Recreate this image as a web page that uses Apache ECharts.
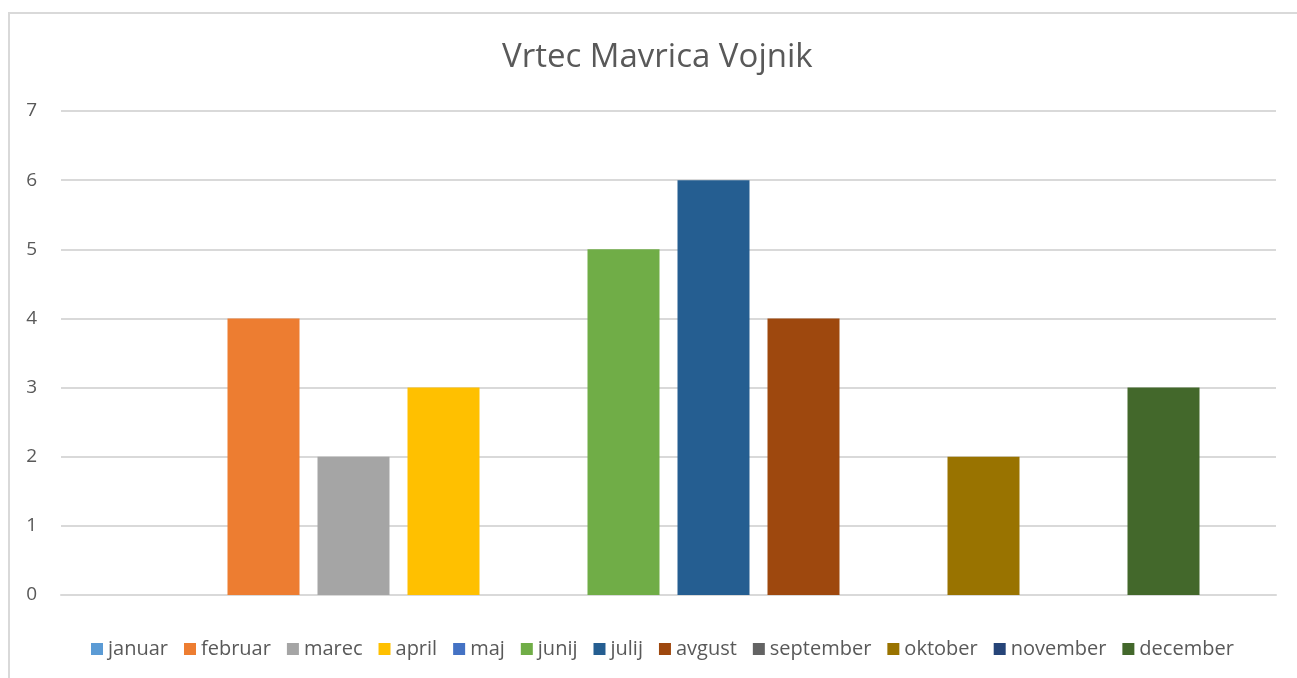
<!DOCTYPE html>
<html>
<head>
<meta charset="utf-8">
<style>
  html, body { margin: 0; padding: 0; background: #fff; }
  #chart { width: 1297px; height: 678px; }
</style>
<script src="https://cdn.jsdelivr.net/npm/echarts@6/dist/echarts.min.js"></script>
</head>
<body>
<div id="chart"></div>
<script>
  // months shown as separate series in one category
  const months = ['januar', 'februar', 'marec', 'april', 'maj', 'junij', 'julij', 'avgust', 'september', 'oktober', 'november', 'december']
  const values = [0, 4, 2, 3, 0, 5, 6, 4, 0, 2, 0, 3]
  const colors = ['#5b9bd5', '#ed7d31', '#a5a5a5', '#ffc000', '#4472c4', '#70ad47', '#255e91', '#9e480e', '#636363', '#997300', '#264478', '#43682b']
  const yTicks = [0, 1, 2, 3, 4, 5, 6, 7]

  const myChart = echarts.init(document.getElementById('chart'))
  myChart.setOption({
    animation: false,
    color: colors,
    textStyle: { fontFamily: 'Open Sans' },
    title: {
      text: 'Vrtec Mavrica Vojnik',
      left: 497,
      top: 36,
      textStyle: { color: '#595959', fontSize: 33, fontWeight: 'normal', fontFamily: 'Open Sans' }
    },
    graphic: [{
      type: 'rect',
      shape: { x: 9, y: 13, width: 1320, height: 700 },
      style: { fill: 'none', stroke: '#d9d9d9', lineWidth: 2 },
      silent: true
    }],
    grid: { left: 61, right: 21, top: 111, bottom: 83 },
    legend: {
      bottom: 14,
      left: 86,
      icon: 'rect',
      itemWidth: 12,
      itemHeight: 12,
      itemGap: 16,
      textStyle: { color: '#595959', fontSize: 20, fontFamily: 'Open Sans' },
      data: months
    },
    xAxis: {
      type: 'category',
      data: [''],
      axisLine: { lineStyle: { color: '#d9d9d9', width: 2 } },
      axisTick: { show: false },
      axisLabel: { show: false }
    },
    yAxis: {
      type: 'value',
      min: yTicks[0],
      max: yTicks[yTicks.length - 1],
      interval: 1,
      axisLine: { show: false },
      axisTick: { show: false },
      axisLabel: { color: '#595959', fontSize: 19, margin: 24 },
      splitLine: { lineStyle: { color: '#d9d9d9', width: 2 } }
    },
    series: months.map((m, i) => ({
      name: m,
      type: 'bar',
      barWidth: 72,
      barGap: '25%',
      data: [values[i]]
    }))
  })
</script>
</body>
</html>
